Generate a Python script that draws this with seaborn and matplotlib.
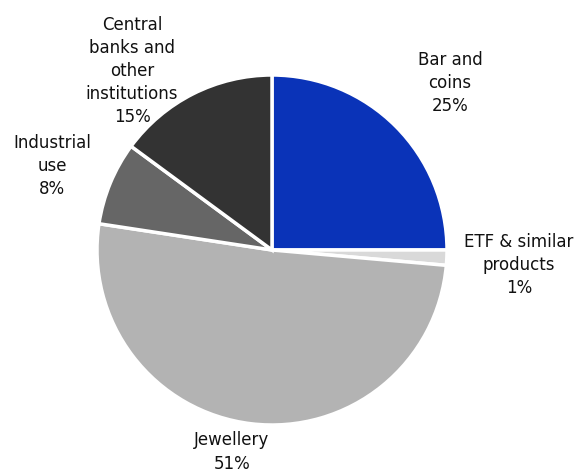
import matplotlib
matplotlib.use("Agg")
import matplotlib.pyplot as plt
import seaborn as sns

sns.set_theme(style="white")
plt.rcParams['font.family'] = ['DejaVu Sans']

categories = ["Bar and\ncoins", "ETF & similar\nproducts", "Jewellery", "Industrial\nuse",
              "Central\nbanks and\nother\ninstitutions"]
values = [25.0, 1.4, 51.0, 7.7, 14.9]
pct_labels = ["25%", "1%", "51%", "8%", "15%"]
colors = ["#0A33B8", "#D9D9D9", "#B3B3B3", "#666666", "#333333"]
label_pos = [(1.017, 0.954), (1.41, -0.086), (-0.229, -1.154), (-1.257, 0.48), (-0.80, 1.023)]

fig = plt.figure(figsize=(5.77, 4.71), dpi=100)
ax = fig.add_axes([97/577, 46/471, 350/577, 350/471])
ax.pie(values, colors=colors, startangle=90, counterclock=False, radius=1.0,
       wedgeprops=dict(edgecolor="white", linewidth=2.5))
for cat, pct, (x, y) in zip(categories, pct_labels, label_pos):
    ax.text(x, y, f"{cat}\n{pct}", ha="center", va="center", fontsize=12,
            color="#111111", linespacing=1.37)
ax.set_xlim(-1, 1)
ax.set_ylim(-1, 1)
ax.set_aspect("equal")
ax.axis("off")
fig.savefig("out.png", dpi=100)
